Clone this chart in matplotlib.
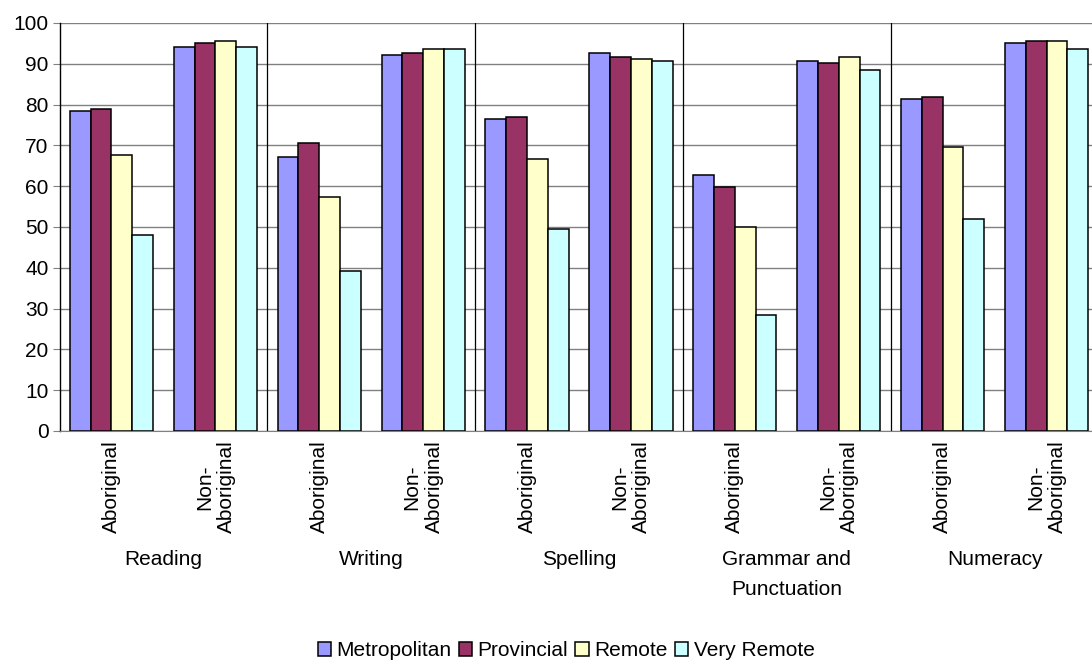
import matplotlib.pyplot as plt
from matplotlib.transforms import blended_transform_factory

plt.rcParams['font.family'] = ['Liberation Sans', 'DejaVu Sans']

# test areas, each split into Aboriginal / Non-Aboriginal students
areas = ["Reading", "Writing", "Spelling", "Grammar and\nPunctuation", "Numeracy"]
groups = ["Aboriginal", "Non-\nAboriginal"]
regions = ["Metropolitan", "Provincial", "Remote", "Very Remote"]

# percentage at or above benchmark, one list per region, ordered area by area (Ab, Non-Ab)
metropolitan = [78.4, 94.0, 67.1, 92.1, 76.5, 92.7, 62.7, 90.6, 81.3, 95.0]
provincial = [78.9, 95.0, 70.5, 92.7, 76.9, 91.6, 59.7, 90.1, 81.9, 95.5]
remote = [67.6, 95.5, 57.3, 93.6, 66.6, 91.1, 49.9, 91.6, 69.6, 95.5]
very_remote = [48.0, 94.0, 39.1, 93.6, 49.4, 90.6, 28.4, 88.6, 51.9, 93.6]

series = [metropolitan, provincial, remote, very_remote]
colors = ["#9999FF", "#993366", "#FFFFCC", "#CCFFFF"]
FS = 15

fig = plt.figure(figsize=(10.92, 6.64), dpi=100)
W, H = 1092, 664
ax = fig.add_axes([59.5 / W, 1 - 431 / H, 1039 / W, 408 / H])

n = len(areas) * len(groups)
xs = [i + 0.5 for i in range(n)]
bw = 0.2
for k, (vals, col, name) in enumerate(zip(series, colors, regions)):
    off = (k - 1.5) * bw
    ax.bar([x + off for x in xs], vals, width=bw, color=col, edgecolor="black",
           linewidth=1.1, label=name, zorder=3)

ax.set_xlim(0, n)
ax.set_ylim(0, 100)
ax.set_yticks(range(0, 101, 10))
ax.yaxis.grid(True, color="#808080", linewidth=1.0, zorder=0)
ax.tick_params(axis="y", direction="out", length=5, color="#808080", labelsize=FS, pad=3)

# category labels under each bar cluster
ax.set_xticks(xs)
ax.set_xticklabels(groups * len(areas), rotation=90, va="top", ha="center",
                   multialignment="center", fontsize=FS)
ax.tick_params(axis="x", length=0, pad=7)

for s in ["top", "right"]:
    ax.spines[s].set_visible(False)
ax.spines["bottom"].set_color("#808080")
ax.spines["left"].set_color("black")
ax.spines["left"].set_linewidth(1.0)

# black separators between test areas
for g in range(1, len(areas)):
    ax.axvline(2 * g, color="black", linewidth=0.9, zorder=2)

# test area names beneath the rotated labels
trans = blended_transform_factory(ax.transData, fig.transFigure)
for g, area in enumerate(areas):
    ax.text(2 * g + 1, 1 - 550 / H, area, transform=trans, ha="center", va="top",
            fontsize=FS, linespacing=1.75)

fig.legend(loc="center", bbox_to_anchor=(566 / W, 1 - 651 / H), ncol=4, frameon=False,
           fontsize=FS, handlelength=0.65, handleheight=0.65, handletextpad=0.25,
           columnspacing=0.35, borderaxespad=0)

fig.savefig("out.png", dpi=100)
